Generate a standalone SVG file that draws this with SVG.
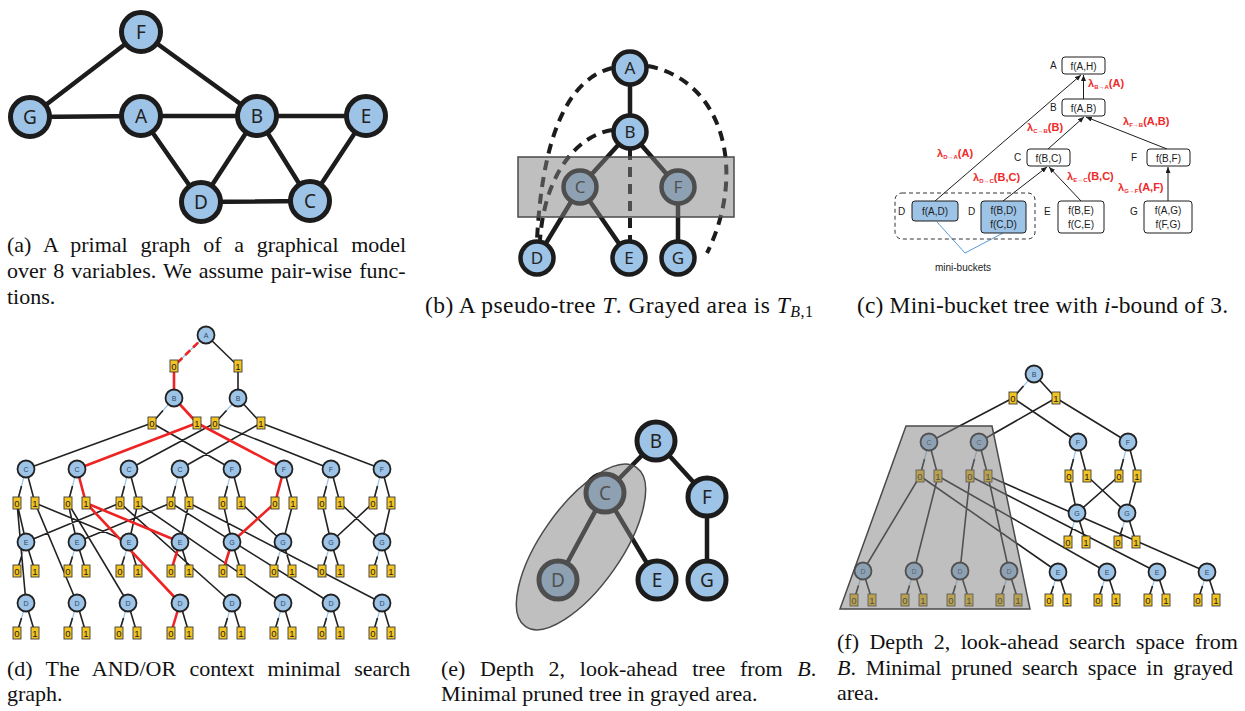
<svg xmlns="http://www.w3.org/2000/svg" width="1245" height="711" viewBox="0 0 1245 711">
<defs>
  <marker id="ah" markerUnits="userSpaceOnUse" markerWidth="7" markerHeight="6" refX="6" refY="2.5" orient="auto">
    <path d="M0,0 L6,2.5 L0,5 z" fill="#1c1c1c"/>
  </marker>
</defs>
<style>
  .cap { font-family: "Liberation Serif", "Times New Roman", serif; font-size: 22px; fill: #111; }
  .cap2 { font-family: "Liberation Serif", "Times New Roman", serif; font-size: 23.5px; fill: #111; }
  .it { font-style: italic; }
  .big circle { fill: #9dc3e6; stroke: #1c1c1c; stroke-width: 5; }
  .big text { font-family: "Noto Sans", "Open Sans", sans-serif; font-size: 19px; fill: #222; text-anchor: middle; }
  .mid circle { fill: #9dc3e6; stroke: #1c1c1c; stroke-width: 4.5; }
  .mid text { font-family: "Noto Sans", "Open Sans", sans-serif; font-size: 17px; fill: #222; text-anchor: middle; }
  .thick { stroke: #1c1c1c; stroke-width: 4.5; fill: none; stroke-linecap: round; }
  .dash { stroke: #1c1c1c; stroke-width: 4; fill: none; stroke-dasharray: 10 7; }
  .shade { fill: #7f7f7f; fill-opacity: 0.5; stroke: #4a4a4a; stroke-width: 1.5; }
  .bx rect { fill: #fff; stroke: #1c1c1c; stroke-width: 1; }
  .bx.blue rect { fill: #9dc3e6; }
  .bx text, .lbl { font-family: "Liberation Sans", Arial, sans-serif; font-size: 10px; fill: #1c1c1c; }
  .bx text { text-anchor: middle; }
  .lam { font-family: "Liberation Sans", Arial, sans-serif; font-size: 11px; font-weight: bold; fill: #ee2a2a; }
  .lam .sub { font-size: 6px; }
  .arr { stroke: #1c1c1c; stroke-width: 1; fill: none; marker-end: url(#ah); }
  .or circle { fill: #9dc3e6; stroke: #222; stroke-width: 1.8; }
  .or text { font-family: "Liberation Sans", Arial, sans-serif; font-size: 7px; fill: #2e4a66; text-anchor: middle; }
  .and rect { fill: #f3c320; stroke: #3a3a3a; stroke-width: 0.9; }
  .and text { font-family: "Liberation Sans", Arial, sans-serif; font-size: 9.5px; fill: #222; text-anchor: middle; }
  .e { stroke: #222; stroke-width: 1.6; fill: none; }
  .lb { stroke: #9dc3e6; stroke-width: 1.2; fill: none; }
  .r { stroke: #ee2424; stroke-width: 2.6; fill: none; }
</style>
<rect width="1245" height="711" fill="#fff"/>

<!-- ===== (a) primal graph ===== -->
<g id="a-edges">
  <path class="thick" d="M141,32 L30,117 M141,32 L257,116 M30,117 L141,116 M141,116 L257,116 M257,116 L366,116 M141,116 L201,202 M257,116 L201,202 M257,116 L310,201 M201,202 L310,201 M366,116 L310,201"/>
</g>
<g id="a-F" class="big"><circle cx="141" cy="32" r="19.5"/><text x="141" y="38.5">F</text></g>
<g id="a-G" class="big"><circle cx="30" cy="117" r="19.5"/><text x="30" y="123.5">G</text></g>
<g id="a-A" class="big"><circle cx="141" cy="116" r="19.5"/><text x="141" y="122.5">A</text></g>
<g id="a-B" class="big"><circle cx="257" cy="116" r="19.5"/><text x="257" y="122.5">B</text></g>
<g id="a-E" class="big"><circle cx="366" cy="116" r="19.5"/><text x="366" y="122.5">E</text></g>
<g id="a-D" class="big"><circle cx="201" cy="202" r="19.5"/><text x="201" y="208.5">D</text></g>
<g id="a-C" class="big"><circle cx="310" cy="201" r="19.5"/><text x="310" y="207.5">C</text></g>
<text class="cap" x="7" y="252" word-spacing="7.2">(a) A primal graph of a graphical model</text>
<text class="cap" x="7" y="278" word-spacing="1.6">over 8 variables. We assume pair-wise func-</text>
<text class="cap" x="7" y="304">tions.</text>

<!-- ===== (b) pseudo tree ===== -->
<g id="b-edges">
  <path class="thick" d="M630,68 L630,132 M630,132 L580,187 M630,132 L678,187 M580,187 L537,258 M580,187 L629,258 M678,187 L678,258"/>
  <path class="dash" d="M612,68 Q545,85 537,240"/>
  <path class="dash" d="M648,66 C722,80 748,170 707,253"/>
  <path class="dash" d="M612,130 C580,135 545,170 540,240"/>
  <path class="dash" d="M630,150 L630,240"/>
</g>
<g id="b-A" class="mid"><circle cx="630" cy="68" r="16.5"/><text x="630" y="74">A</text></g>
<g id="b-B" class="mid"><circle cx="630" cy="132" r="16.5"/><text x="630" y="138">B</text></g>
<g id="b-C" class="mid"><circle cx="580" cy="187" r="16.5"/><text x="580" y="193">C</text></g>
<g id="b-F" class="mid"><circle cx="678" cy="187" r="16.5"/><text x="678" y="193">F</text></g>
<g id="b-D" class="mid"><circle cx="537" cy="258" r="16.5"/><text x="537" y="264">D</text></g>
<g id="b-E" class="mid"><circle cx="629" cy="258" r="16.5"/><text x="629" y="264">E</text></g>
<g id="b-G" class="mid"><circle cx="678" cy="258" r="16.5"/><text x="678" y="264">G</text></g>
<rect id="b-TB1" class="shade" x="518" y="157" width="216" height="60"/>
<text class="cap2" x="425" y="313" textLength="388" lengthAdjust="spacing">(b) A pseudo-tree <tspan class="it">T</tspan>. Grayed area is <tspan class="it">T</tspan><tspan class="it" font-size="16" dy="4">B</tspan><tspan font-size="16">,1</tspan></text>

<!-- ===== (c) mini-bucket tree ===== -->
<g id="c-arrows">
  <line class="arr" x1="935" y1="201" x2="1081" y2="75"/>
  <line class="arr" x1="1083.5" y1="99" x2="1083.5" y2="75"/>
  <line class="arr" x1="1048" y1="149" x2="1084" y2="117"/>
  <line class="arr" x1="1167" y1="149" x2="1086" y2="117"/>
  <line class="arr" x1="1003" y1="201" x2="1047" y2="167"/>
  <line class="arr" x1="1081" y1="201" x2="1049" y2="167"/>
  <line class="arr" x1="1168" y1="201" x2="1168" y2="167"/>
  <polyline points="937,222 965,253 1003,233" fill="none" stroke="#5b9bd5" stroke-width="1"/>
</g>
<rect id="c-minibuckets" x="895" y="193" width="140" height="46" rx="7" fill="none" stroke="#333" stroke-width="1" stroke-dasharray="4 3"/>
<g id="c-A" class="bx"><rect x="1062" y="57" width="43" height="17" rx="3"/><text x="1083.5" y="69.5">f(A,H)</text></g>
<g id="c-B" class="bx"><rect x="1062" y="99" width="43" height="17" rx="3"/><text x="1083.5" y="111.5">f(A,B)</text></g>
<g id="c-C" class="bx"><rect x="1027" y="149" width="43" height="17" rx="3"/><text x="1048.5" y="161.5">f(B,C)</text></g>
<g id="c-F" class="bx"><rect x="1147" y="149" width="43" height="17" rx="3"/><text x="1168.5" y="161.5">f(B,F)</text></g>
<g id="c-D1" class="bx blue"><rect x="912" y="201" width="46" height="20" rx="3"/><text x="935" y="215">f(A,D)</text></g>
<g id="c-D2" class="bx blue"><rect x="981" y="201" width="45" height="32" rx="3"/><text x="1003.5" y="214">f(B,D)</text><text x="1003.5" y="228">f(C,D)</text></g>
<g id="c-E" class="bx"><rect x="1058" y="201" width="46" height="32" rx="3"/><text x="1081" y="214">f(B,E)</text><text x="1081" y="228">f(C,E)</text></g>
<g id="c-G" class="bx"><rect x="1144" y="201" width="48" height="32" rx="3"/><text x="1168" y="214">f(A,G)</text><text x="1168" y="228">f(F,G)</text></g>
<g id="c-varlabels">
  <text class="lbl" x="1050" y="69">A</text>
  <text class="lbl" x="1050" y="111">B</text>
  <text class="lbl" x="1014" y="161">C</text>
  <text class="lbl" x="1131" y="161">F</text>
  <text class="lbl" x="898" y="215">D</text>
  <text class="lbl" x="968" y="215">D</text>
  <text class="lbl" x="1044" y="215">E</text>
  <text class="lbl" x="1130" y="215">G</text>
  <text class="lbl" x="963" y="271" text-anchor="middle">mini-buckets</text>
</g>
<g id="c-messages">
  <text class="lam" x="1088" y="87">λ<tspan class="sub" dy="2">B→A</tspan><tspan dy="-2">(A)</tspan></text>
  <text class="lam" x="1027" y="131">λ<tspan class="sub" dy="2">C→B</tspan><tspan dy="-2">(B)</tspan></text>
  <text class="lam" x="1123" y="125">λ<tspan class="sub" dy="2">F→B</tspan><tspan dy="-2">(A,B)</tspan></text>
  <text class="lam" x="937" y="157">λ<tspan class="sub" dy="2">D→A</tspan><tspan dy="-2">(A)</tspan></text>
  <text class="lam" x="973" y="181">λ<tspan class="sub" dy="2">D→C</tspan><tspan dy="-2">(B,C)</tspan></text>
  <text class="lam" x="1067" y="180">λ<tspan class="sub" dy="2">E→C</tspan><tspan dy="-2">(B,C)</tspan></text>
  <text class="lam" x="1118" y="191">λ<tspan class="sub" dy="2">G→F</tspan><tspan dy="-2">(A,F)</tspan></text>
</g>
<text class="cap2" x="857" y="313" textLength="371" lengthAdjust="spacing">(c) Mini-bucket tree with <tspan class="it">i</tspan>-bound of 3.</text>

<!-- ===== (d) AND/OR context minimal search graph ===== -->
<g id="d-edges">
  <path class="lb" d="M206,335L174,366 M174,398L152,423 M238,398L215,423
    M26,469L17,503 M77,469L68,503 M129,469L120,503 M180,469L171,503
    M232,469L223,503 M331,469L322,503 M382,469L373,503
    M26,542L17,571 M77,542L68,571 M129,542L120,571
    M283,542L274,571 M331,542L322,571 M382,542L373,571
    M26,603L17,633 M77,603L68,633 M128,603L119,633 M232,603L223,633 M283,603L274,633 M331,603L322,633 M382,603L373,633"/>
  <path class="e" d="M206,335L238,366 M238,366L238,398
    M163,410.5L152,423 M226.5,410.5L215,423 M238,398L261,423
    M152,423L26,469 M152,423L232,469 M215,423L129,469 M215,423L331,469 M261,423L180,469 M261,423L382,469
    M21.5,486L17,503 M72.5,486L68,503 M124.5,486L120,503 M175.5,486L171,503
    M26,469L35,503 M129,469L138,503 M180,469L189,503
    M227.5,486L223,503 M326.5,486L322,503 M377.5,486L373,503
    M232,469L241,503 M284,469L293,503 M331,469L340,503 M382,469L391,503
    M17,503L26,542 M17,503L26,603 M35,503L129,542 M35,503L77,603 M68,503L77,542 M68,503L128,603
    M120,503L26,542 M120,503L232,603 M138,503L129,542 M138,503L283,603
    M171,503L77,542 M171,503L331,603 M189,503L180,542 M189,503L382,603
    M223,503L232,542 M241,503L283,542 M293,503L283,542 M322,503L331,542 M340,503L382,542 M373,503L331,542 M391,503L382,542
    M21.5,556.5L17,571 M72.5,556.5L68,571 M124.5,556.5L120,571
    M26,542L35,571 M77,542L86,571 M129,542L138,571 M180,542L189,571
    M278.5,556.5L274,571 M326.5,556.5L322,571 M377.5,556.5L373,571
    M232,542L241,571 M283,542L292,571 M331,542L340,571 M382,542L391,571
    M21.5,618L17,633 M72.5,618L68,633 M123.5,618L119,633 M227.5,618L223,633 M278.5,618L274,633 M326.5,618L322,633 M377.5,618L373,633
    M26,603L35,633 M77,603L86,633 M128,603L137,633 M180,603L189,633 M232,603L241,633 M283,603L292,633 M331,603L340,633 M382,603L391,633"/>
  <path class="r" d="M206,335L174,366" stroke-dasharray="7 4"/>
  <path class="r" d="M174,366L174,398 M174,398L197,423 M197,423L77,469 M197,423L284,469
    M77,469L86,503 M86,503L180,542 M86,503L180,603 M180,542L171,571 M180,603L171,633
    M284,469L275,503 M275,503L232,542 M232,542L223,571"/>
</g>
<g id="d-nodes">
  <g id="dA" class="or" transform="translate(206,335)"><circle r="8.5"/><text y="2.5">A</text></g>
  <g id="dB0" class="or" transform="translate(174,398)"><circle r="8.5"/><text y="2.5">B</text></g>
  <g id="dB1" class="or" transform="translate(238,398)"><circle r="8.5"/><text y="2.5">B</text></g>
  <g id="dC0" class="or" transform="translate(26,469)"><circle r="8.5"/><text y="2.5">C</text></g>
  <g id="dC1" class="or" transform="translate(77,469)"><circle r="8.5"/><text y="2.5">C</text></g>
  <g id="dC2" class="or" transform="translate(129,469)"><circle r="8.5"/><text y="2.5">C</text></g>
  <g id="dC3" class="or" transform="translate(180,469)"><circle r="8.5"/><text y="2.5">C</text></g>
  <g id="dF0" class="or" transform="translate(232,469)"><circle r="8.5"/><text y="2.5">F</text></g>
  <g id="dF1" class="or" transform="translate(284,469)"><circle r="8.5"/><text y="2.5">F</text></g>
  <g id="dF2" class="or" transform="translate(331,469)"><circle r="8.5"/><text y="2.5">F</text></g>
  <g id="dF3" class="or" transform="translate(382,469)"><circle r="8.5"/><text y="2.5">F</text></g>
  <g id="dE0" class="or" transform="translate(26,542)"><circle r="8.5"/><text y="2.5">E</text></g>
  <g id="dE1" class="or" transform="translate(77,542)"><circle r="8.5"/><text y="2.5">E</text></g>
  <g id="dE2" class="or" transform="translate(129,542)"><circle r="8.5"/><text y="2.5">E</text></g>
  <g id="dE3" class="or" transform="translate(180,542)"><circle r="8.5"/><text y="2.5">E</text></g>
  <g id="dG0" class="or" transform="translate(232,542)"><circle r="8.5"/><text y="2.5">G</text></g>
  <g id="dG1" class="or" transform="translate(283,542)"><circle r="8.5"/><text y="2.5">G</text></g>
  <g id="dG2" class="or" transform="translate(331,542)"><circle r="8.5"/><text y="2.5">G</text></g>
  <g id="dG3" class="or" transform="translate(382,542)"><circle r="8.5"/><text y="2.5">G</text></g>
  <g id="dD0" class="or" transform="translate(26,603)"><circle r="8.5"/><text y="2.5">D</text></g>
  <g id="dD1" class="or" transform="translate(77,603)"><circle r="8.5"/><text y="2.5">D</text></g>
  <g id="dD2" class="or" transform="translate(128,603)"><circle r="8.5"/><text y="2.5">D</text></g>
  <g id="dD3" class="or" transform="translate(180,603)"><circle r="8.5"/><text y="2.5">D</text></g>
  <g id="dD4" class="or" transform="translate(232,603)"><circle r="8.5"/><text y="2.5">D</text></g>
  <g id="dD5" class="or" transform="translate(283,603)"><circle r="8.5"/><text y="2.5">D</text></g>
  <g id="dD6" class="or" transform="translate(331,603)"><circle r="8.5"/><text y="2.5">D</text></g>
  <g id="dD7" class="or" transform="translate(382,603)"><circle r="8.5"/><text y="2.5">D</text></g>

  <g id="dA-0" class="and" transform="translate(174,366)"><rect x="-4" y="-6" width="8" height="12"/><text y="3.5">0</text></g>
  <g id="dA-1" class="and" transform="translate(238,366)"><rect x="-4" y="-6" width="8" height="12"/><text y="3.5">1</text></g>
  <g id="dB0-0" class="and" transform="translate(152,423)"><rect x="-4" y="-6" width="8" height="12"/><text y="3.5">0</text></g>
  <g id="dB0-1" class="and" transform="translate(197,423)"><rect x="-4" y="-6" width="8" height="12"/><text y="3.5">1</text></g>
  <g id="dB1-0" class="and" transform="translate(215,423)"><rect x="-4" y="-6" width="8" height="12"/><text y="3.5">0</text></g>
  <g id="dB1-1" class="and" transform="translate(261,423)"><rect x="-4" y="-6" width="8" height="12"/><text y="3.5">1</text></g>

  <g id="dC0-0" class="and" transform="translate(17,503)"><rect x="-4" y="-6" width="8" height="12"/><text y="3.5">0</text></g>
  <g id="dC0-1" class="and" transform="translate(35,503)"><rect x="-4" y="-6" width="8" height="12"/><text y="3.5">1</text></g>
  <g id="dC1-0" class="and" transform="translate(68,503)"><rect x="-4" y="-6" width="8" height="12"/><text y="3.5">0</text></g>
  <g id="dC1-1" class="and" transform="translate(86,503)"><rect x="-4" y="-6" width="8" height="12"/><text y="3.5">1</text></g>
  <g id="dC2-0" class="and" transform="translate(120,503)"><rect x="-4" y="-6" width="8" height="12"/><text y="3.5">0</text></g>
  <g id="dC2-1" class="and" transform="translate(138,503)"><rect x="-4" y="-6" width="8" height="12"/><text y="3.5">1</text></g>
  <g id="dC3-0" class="and" transform="translate(171,503)"><rect x="-4" y="-6" width="8" height="12"/><text y="3.5">0</text></g>
  <g id="dC3-1" class="and" transform="translate(189,503)"><rect x="-4" y="-6" width="8" height="12"/><text y="3.5">1</text></g>
  <g id="dF0-0" class="and" transform="translate(223,503)"><rect x="-4" y="-6" width="8" height="12"/><text y="3.5">0</text></g>
  <g id="dF0-1" class="and" transform="translate(241,503)"><rect x="-4" y="-6" width="8" height="12"/><text y="3.5">1</text></g>
  <g id="dF1-0" class="and" transform="translate(275,503)"><rect x="-4" y="-6" width="8" height="12"/><text y="3.5">0</text></g>
  <g id="dF1-1" class="and" transform="translate(293,503)"><rect x="-4" y="-6" width="8" height="12"/><text y="3.5">1</text></g>
  <g id="dF2-0" class="and" transform="translate(322,503)"><rect x="-4" y="-6" width="8" height="12"/><text y="3.5">0</text></g>
  <g id="dF2-1" class="and" transform="translate(340,503)"><rect x="-4" y="-6" width="8" height="12"/><text y="3.5">1</text></g>
  <g id="dF3-0" class="and" transform="translate(373,503)"><rect x="-4" y="-6" width="8" height="12"/><text y="3.5">0</text></g>
  <g id="dF3-1" class="and" transform="translate(391,503)"><rect x="-4" y="-6" width="8" height="12"/><text y="3.5">1</text></g>

  <g id="dE0-0" class="and" transform="translate(17,571)"><rect x="-4" y="-6" width="8" height="12"/><text y="3.5">0</text></g>
  <g id="dE0-1" class="and" transform="translate(35,571)"><rect x="-4" y="-6" width="8" height="12"/><text y="3.5">1</text></g>
  <g id="dE1-0" class="and" transform="translate(68,571)"><rect x="-4" y="-6" width="8" height="12"/><text y="3.5">0</text></g>
  <g id="dE1-1" class="and" transform="translate(86,571)"><rect x="-4" y="-6" width="8" height="12"/><text y="3.5">1</text></g>
  <g id="dE2-0" class="and" transform="translate(120,571)"><rect x="-4" y="-6" width="8" height="12"/><text y="3.5">0</text></g>
  <g id="dE2-1" class="and" transform="translate(138,571)"><rect x="-4" y="-6" width="8" height="12"/><text y="3.5">1</text></g>
  <g id="dE3-0" class="and" transform="translate(171,571)"><rect x="-4" y="-6" width="8" height="12"/><text y="3.5">0</text></g>
  <g id="dE3-1" class="and" transform="translate(189,571)"><rect x="-4" y="-6" width="8" height="12"/><text y="3.5">1</text></g>
  <g id="dG0-0" class="and" transform="translate(223,571)"><rect x="-4" y="-6" width="8" height="12"/><text y="3.5">0</text></g>
  <g id="dG0-1" class="and" transform="translate(241,571)"><rect x="-4" y="-6" width="8" height="12"/><text y="3.5">1</text></g>
  <g id="dG1-0" class="and" transform="translate(274,571)"><rect x="-4" y="-6" width="8" height="12"/><text y="3.5">0</text></g>
  <g id="dG1-1" class="and" transform="translate(292,571)"><rect x="-4" y="-6" width="8" height="12"/><text y="3.5">1</text></g>
  <g id="dG2-0" class="and" transform="translate(322,571)"><rect x="-4" y="-6" width="8" height="12"/><text y="3.5">0</text></g>
  <g id="dG2-1" class="and" transform="translate(340,571)"><rect x="-4" y="-6" width="8" height="12"/><text y="3.5">1</text></g>
  <g id="dG3-0" class="and" transform="translate(373,571)"><rect x="-4" y="-6" width="8" height="12"/><text y="3.5">0</text></g>
  <g id="dG3-1" class="and" transform="translate(391,571)"><rect x="-4" y="-6" width="8" height="12"/><text y="3.5">1</text></g>

  <g id="dD0-0" class="and" transform="translate(17,633)"><rect x="-4" y="-6" width="8" height="12"/><text y="3.5">0</text></g>
  <g id="dD0-1" class="and" transform="translate(35,633)"><rect x="-4" y="-6" width="8" height="12"/><text y="3.5">1</text></g>
  <g id="dD1-0" class="and" transform="translate(68,633)"><rect x="-4" y="-6" width="8" height="12"/><text y="3.5">0</text></g>
  <g id="dD1-1" class="and" transform="translate(86,633)"><rect x="-4" y="-6" width="8" height="12"/><text y="3.5">1</text></g>
  <g id="dD2-0" class="and" transform="translate(119,633)"><rect x="-4" y="-6" width="8" height="12"/><text y="3.5">0</text></g>
  <g id="dD2-1" class="and" transform="translate(137,633)"><rect x="-4" y="-6" width="8" height="12"/><text y="3.5">1</text></g>
  <g id="dD3-0" class="and" transform="translate(171,633)"><rect x="-4" y="-6" width="8" height="12"/><text y="3.5">0</text></g>
  <g id="dD3-1" class="and" transform="translate(189,633)"><rect x="-4" y="-6" width="8" height="12"/><text y="3.5">1</text></g>
  <g id="dD4-0" class="and" transform="translate(223,633)"><rect x="-4" y="-6" width="8" height="12"/><text y="3.5">0</text></g>
  <g id="dD4-1" class="and" transform="translate(241,633)"><rect x="-4" y="-6" width="8" height="12"/><text y="3.5">1</text></g>
  <g id="dD5-0" class="and" transform="translate(274,633)"><rect x="-4" y="-6" width="8" height="12"/><text y="3.5">0</text></g>
  <g id="dD5-1" class="and" transform="translate(292,633)"><rect x="-4" y="-6" width="8" height="12"/><text y="3.5">1</text></g>
  <g id="dD6-0" class="and" transform="translate(322,633)"><rect x="-4" y="-6" width="8" height="12"/><text y="3.5">0</text></g>
  <g id="dD6-1" class="and" transform="translate(340,633)"><rect x="-4" y="-6" width="8" height="12"/><text y="3.5">1</text></g>
  <g id="dD7-0" class="and" transform="translate(373,633)"><rect x="-4" y="-6" width="8" height="12"/><text y="3.5">0</text></g>
  <g id="dD7-1" class="and" transform="translate(391,633)"><rect x="-4" y="-6" width="8" height="12"/><text y="3.5">1</text></g>
</g>
<text class="cap" x="7" y="676" word-spacing="7.8">(d) The AND/OR context minimal search</text>
<text class="cap" x="7" y="701">graph.</text>

<!-- ===== (e) look-ahead tree ===== -->
<g id="e-edges">
  <path class="thick" d="M656,441 L605,493 M656,441 L707,497 M605,493 L558,580 M605,493 L657,580 M707,497 L707,580"/>
</g>
<g id="e-B" class="big"><circle cx="656" cy="441" r="19"/><text x="656" y="447.5">B</text></g>
<g id="e-C" class="big"><circle cx="605" cy="493" r="19"/><text x="605" y="499.5">C</text></g>
<g id="e-F" class="big"><circle cx="707" cy="497" r="19"/><text x="707" y="503.5">F</text></g>
<g id="e-D" class="big"><circle cx="558" cy="580" r="19"/><text x="558" y="586.5">D</text></g>
<g id="e-E" class="big"><circle cx="657" cy="580" r="19"/><text x="657" y="586.5">E</text></g>
<g id="e-G" class="big"><circle cx="707" cy="580" r="19"/><text x="707" y="586.5">G</text></g>
<ellipse id="e-pruned" class="shade" cx="581" cy="547" rx="97" ry="40" transform="rotate(-55 581 547)"/>
<text class="cap" x="441" y="676" word-spacing="9.2">(e) Depth 2, look-ahead tree from <tspan class="it">B</tspan>.</text>
<text class="cap" x="441" y="701">Minimal pruned tree in grayed area.</text>

<!-- ===== (f) look-ahead search space ===== -->
<g id="f-edges">
  <path class="lb" d="M1034,374L1013,398 M929,442L920,476 M979,442L970,476 M1078,442L1069,476 M1128,442L1119,476
    M1077,513L1068,542 M1127,513L1118,542
    M863,571L854,600 M914,571L905,600 M960,571L951,600 M1009,571L1000,600
    M1058,572L1049,600 M1107,572L1098,600 M1157,572L1148,600 M1207,572L1198,600"/>
  <path class="e" d="M1034,374L1056,398 M1023.5,386L1013,398
    M1013,398L929,442 M1013,398L1078,442 M1056,398L979,442 M1056,398L1128,442
    M924.5,459L920,476 M974.5,459L970,476 M1073.5,459L1069,476 M1123.5,459L1119,476
    M929,442L938,476 M979,442L988,476 M1078,442L1087,476 M1128,442L1137,476
    M920,476L863,571 M920,476L1058,572 M938,476L914,571 M938,476L1107,572
    M970,476L960,571 M970,476L1157,572 M988,476L1009,571 M988,476L1207,572
    M1069,476L1077,513 M1087,476L1127,513 M1119,476L1077,513 M1137,476L1127,513
    M1072.5,527.5L1068,542 M1077,513L1086,542 M1122.5,527.5L1118,542 M1127,513L1136,542
    M858.5,585.5L854,600 M863,571L872,600 M909.5,585.5L905,600 M914,571L923,600
    M955.5,585.5L951,600 M960,571L969,600 M1004.5,585.5L1000,600 M1009,571L1018,600
    M1053.5,586L1049,600 M1058,572L1067,600 M1102.5,586L1098,600 M1107,572L1116,600
    M1152.5,586L1148,600 M1157,572L1166,600 M1202.5,586L1198,600 M1207,572L1216,600"/>
</g>
<g id="f-nodes">
  <g id="fB" class="or" transform="translate(1034,374)"><circle r="8.5"/><text y="2.5">B</text></g>
  <g id="fC0" class="or" transform="translate(929,442)"><circle r="8.5"/><text y="2.5">C</text></g>
  <g id="fC1" class="or" transform="translate(979,442)"><circle r="8.5"/><text y="2.5">C</text></g>
  <g id="fF0" class="or" transform="translate(1078,442)"><circle r="8.5"/><text y="2.5">F</text></g>
  <g id="fF1" class="or" transform="translate(1128,442)"><circle r="8.5"/><text y="2.5">F</text></g>
  <g id="fG0" class="or" transform="translate(1077,513)"><circle r="8.5"/><text y="2.5">G</text></g>
  <g id="fG1" class="or" transform="translate(1127,513)"><circle r="8.5"/><text y="2.5">G</text></g>
  <g id="fD0" class="or" transform="translate(863,571)"><circle r="8.5"/><text y="2.5">D</text></g>
  <g id="fD1" class="or" transform="translate(914,571)"><circle r="8.5"/><text y="2.5">D</text></g>
  <g id="fD2" class="or" transform="translate(960,571)"><circle r="8.5"/><text y="2.5">D</text></g>
  <g id="fD3" class="or" transform="translate(1009,571)"><circle r="8.5"/><text y="2.5">D</text></g>
  <g id="fE0" class="or" transform="translate(1058,572)"><circle r="8.5"/><text y="2.5">E</text></g>
  <g id="fE1" class="or" transform="translate(1107,572)"><circle r="8.5"/><text y="2.5">E</text></g>
  <g id="fE2" class="or" transform="translate(1157,572)"><circle r="8.5"/><text y="2.5">E</text></g>
  <g id="fE3" class="or" transform="translate(1207,572)"><circle r="8.5"/><text y="2.5">E</text></g>

  <g id="fB-0" class="and" transform="translate(1013,398)"><rect x="-4" y="-6" width="8" height="12"/><text y="3.5">0</text></g>
  <g id="fB-1" class="and" transform="translate(1056,398)"><rect x="-4" y="-6" width="8" height="12"/><text y="3.5">1</text></g>
  <g id="fC0-0" class="and" transform="translate(920,476)"><rect x="-4" y="-6" width="8" height="12"/><text y="3.5">0</text></g>
  <g id="fC0-1" class="and" transform="translate(938,476)"><rect x="-4" y="-6" width="8" height="12"/><text y="3.5">1</text></g>
  <g id="fC1-0" class="and" transform="translate(970,476)"><rect x="-4" y="-6" width="8" height="12"/><text y="3.5">0</text></g>
  <g id="fC1-1" class="and" transform="translate(988,476)"><rect x="-4" y="-6" width="8" height="12"/><text y="3.5">1</text></g>
  <g id="fF0-0" class="and" transform="translate(1069,476)"><rect x="-4" y="-6" width="8" height="12"/><text y="3.5">0</text></g>
  <g id="fF0-1" class="and" transform="translate(1087,476)"><rect x="-4" y="-6" width="8" height="12"/><text y="3.5">1</text></g>
  <g id="fF1-0" class="and" transform="translate(1119,476)"><rect x="-4" y="-6" width="8" height="12"/><text y="3.5">0</text></g>
  <g id="fF1-1" class="and" transform="translate(1137,476)"><rect x="-4" y="-6" width="8" height="12"/><text y="3.5">1</text></g>
  <g id="fG0-0" class="and" transform="translate(1068,542)"><rect x="-4" y="-6" width="8" height="12"/><text y="3.5">0</text></g>
  <g id="fG0-1" class="and" transform="translate(1086,542)"><rect x="-4" y="-6" width="8" height="12"/><text y="3.5">1</text></g>
  <g id="fG1-0" class="and" transform="translate(1118,542)"><rect x="-4" y="-6" width="8" height="12"/><text y="3.5">0</text></g>
  <g id="fG1-1" class="and" transform="translate(1136,542)"><rect x="-4" y="-6" width="8" height="12"/><text y="3.5">1</text></g>
  <g id="fD0-0" class="and" transform="translate(854,600)"><rect x="-4" y="-6" width="8" height="12"/><text y="3.5">0</text></g>
  <g id="fD0-1" class="and" transform="translate(872,600)"><rect x="-4" y="-6" width="8" height="12"/><text y="3.5">1</text></g>
  <g id="fD1-0" class="and" transform="translate(905,600)"><rect x="-4" y="-6" width="8" height="12"/><text y="3.5">0</text></g>
  <g id="fD1-1" class="and" transform="translate(923,600)"><rect x="-4" y="-6" width="8" height="12"/><text y="3.5">1</text></g>
  <g id="fD2-0" class="and" transform="translate(951,600)"><rect x="-4" y="-6" width="8" height="12"/><text y="3.5">0</text></g>
  <g id="fD2-1" class="and" transform="translate(969,600)"><rect x="-4" y="-6" width="8" height="12"/><text y="3.5">1</text></g>
  <g id="fD3-0" class="and" transform="translate(1000,600)"><rect x="-4" y="-6" width="8" height="12"/><text y="3.5">0</text></g>
  <g id="fD3-1" class="and" transform="translate(1018,600)"><rect x="-4" y="-6" width="8" height="12"/><text y="3.5">1</text></g>
  <g id="fE0-0" class="and" transform="translate(1049,600)"><rect x="-4" y="-6" width="8" height="12"/><text y="3.5">0</text></g>
  <g id="fE0-1" class="and" transform="translate(1067,600)"><rect x="-4" y="-6" width="8" height="12"/><text y="3.5">1</text></g>
  <g id="fE1-0" class="and" transform="translate(1098,600)"><rect x="-4" y="-6" width="8" height="12"/><text y="3.5">0</text></g>
  <g id="fE1-1" class="and" transform="translate(1116,600)"><rect x="-4" y="-6" width="8" height="12"/><text y="3.5">1</text></g>
  <g id="fE2-0" class="and" transform="translate(1148,600)"><rect x="-4" y="-6" width="8" height="12"/><text y="3.5">0</text></g>
  <g id="fE2-1" class="and" transform="translate(1166,600)"><rect x="-4" y="-6" width="8" height="12"/><text y="3.5">1</text></g>
  <g id="fE3-0" class="and" transform="translate(1198,600)"><rect x="-4" y="-6" width="8" height="12"/><text y="3.5">0</text></g>
  <g id="fE3-1" class="and" transform="translate(1216,600)"><rect x="-4" y="-6" width="8" height="12"/><text y="3.5">1</text></g>
</g>
<polygon id="f-pruned" class="shade" points="906,426 992,426 1030,609 840,609"/>
<text class="cap" x="837" y="649" word-spacing="5">(f) Depth 2, look-ahead search space from</text>
<text class="cap" x="837" y="675" word-spacing="4.2"><tspan class="it">B</tspan>. Minimal pruned search space in grayed</text>
<text class="cap" x="837" y="700">area.</text>
</svg>
